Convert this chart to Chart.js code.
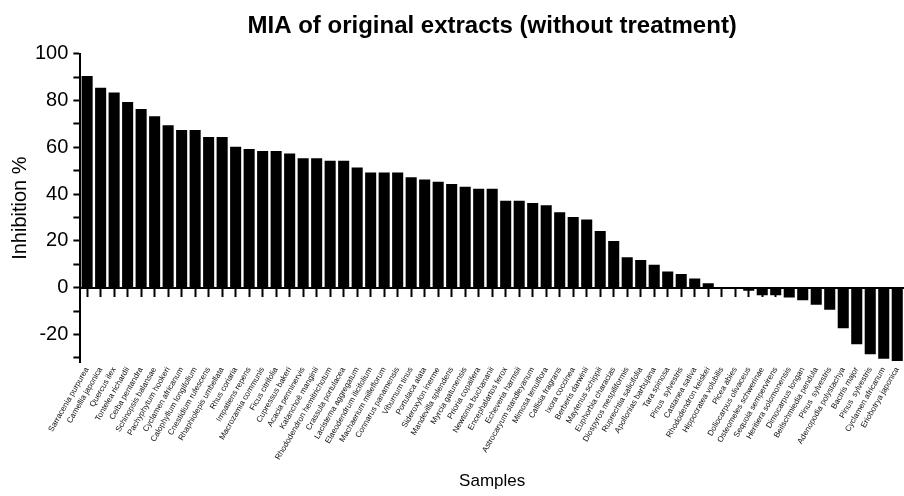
<!DOCTYPE html>
<html lang="en">
<head>
    <meta charset="UTF-8">
    <title>MIA</title>
    <script src="https://cdn.jsdelivr.net/npm/chart.js@4.3.0/dist/chart.umd.min.js"></script>
    <style>
        body { margin: 0; background: #fff; }
    </style>
</head>
<body>
    <canvas id="chart" width="904" height="496"></canvas>
    <script>

const samples = [
  'Sarracenia purpurea', 'Camellia japonica', 'Quercus ilex', 'Tontelea richardii', 'Ceiba pentandra',
  'Schinopsis balansae', 'Pachyphytum hookeri', 'Cyclamen africanum', 'Calophyllum longifolium', 'Cnestidium rufescens',
  'Rhaphiolepis umbellata', 'Rhus coriaria', 'Impatiens repens', 'Macrozamia communis', 'Ficus citrifolia',
  'Cupressus bakeri', 'Acacia penninervis', 'Kalanchoë manginii', 'Rhododendron hemitrichotum', 'Crassula portulacea',
  'Lacistema aggregatum', 'Elaeodendrum ilicifolium', 'Machaerium milleflorum', 'Connarus panamensis', 'Viburnum tinus',
  'Portulaca alata', 'Sideroxylon inerme', 'Mandevilla splendens', 'Myrcia gatunensis', 'Prioria copaifera',
  'Newtonia buchananii', 'Encephalartos ferox', 'Echeveria harmsii', 'Astrocaryum standleyanum', 'Mimosa tenuiflora',
  'Callisia fragrans', 'Ixora coccinea', 'Berberis darwinii', 'Maytenus schippii', 'Euphorbia characias',
  'Diospyros mespiliformis', 'Ruprechtia salicifolia', 'Apollonias barbujana', 'Tara spinosa', 'Pinus  sylvestris',
  'Castanea sativa', 'Rhododendron keiskei', 'Hippocratea volubilis', 'Picea abies', 'Doliocarpus olivaceus',
  'Osteomeles schwerinae', 'Sequoia sempervirens', 'Heritiera solomonensis', 'Dimocarpus longan', 'Beilschmiedia pendula',
  'Pinus  sylvestris', 'Adenopodia polystachya', 'Bactris major', 'Pinus  sylvestris', 'Cyclamen africanum',
  'Eriobotrya japonica'
];

const inhibition = [
  90.5, 85.5, 83.4, 79.4, 76.4, 73.3, 69.4, 67.4, 67.4, 64.4,
  64.4, 60.3, 59.3, 58.4, 58.4, 57.4, 55.3, 55.3, 54.3, 54.3,
  51.4, 49.2, 49.2, 49.2, 47.2, 46.3, 45.3, 44.3, 43.2, 42.3,
  42.3, 37.2, 37.2, 36.2, 35.2, 32.2, 30.2, 29.1, 24.2, 20.0,
  13.0, 11.8, 9.8, 6.9, 5.9, 3.9, 1.9, 0.2, 0.2, -1.3,
  -3.2, -3.2, -4.2, -5.4, -7.3, -9.4, -17.3, -24.2, -28.5, -30.4,
  -31.4
];

// y axis: major ticks labelled every 20, minor ticks at 10s
const yTicks = [-30, -20, -10, 0, 10, 20, 30, 40, 50, 60, 70, 80, 90, 100];
const yMin = -32;
const yMax = 100;

const font = "'Liberation Sans', Arial, sans-serif";

let ctx = document.getElementById('chart').getContext('2d');
let myChart = new Chart(ctx, {
    type: 'bar',
    data: {
        labels: samples,
        datasets: [{
            label: 'Inhibition %',
            data: inhibition,
            backgroundColor: '#000',
            borderWidth: 0,
            barPercentage: 0.82,
            categoryPercentage: 1.0
        }]
    },
    options: {
        responsive: false,
        animation: false,
        layout: { padding: { left: 10, right: 0, top: 12, bottom: 4 } },
        plugins: {
            legend: { display: false },
            tooltip: { enabled: false },
            title: {
                display: true,
                text: 'MIA of original extracts (without treatment)',
                color: '#000',
                fullSize: false,
                font: { family: font, size: 24, weight: 'bold' },
                padding: { top: 0, bottom: 13 }
            }
        },
        scales: {
            x: {
                grid: { display: false, drawTicks: false },
                border: { display: false },
                afterFit: function(scale) {
                    scale.paddingRight = 0;
                },
                ticks: {
                    autoSkip: false,
                    maxRotation: 60,
                    minRotation: 60,
                    padding: 3,
                    color: '#111',
                    font: { family: font, size: 8 }
                },
                title: {
                    display: true,
                    text: 'Samples',
                    color: '#000',
                    font: { family: font, size: 17 },
                    padding: { top: 7, bottom: 0 }
                }
            },
            xZero: {
                type: 'category',
                labels: samples,
                position: { y: 0 },
                offset: true,
                grid: {
                    drawOnChartArea: false,
                    drawTicks: true,
                    offset: false,
                    tickLength: 8,
                    tickWidth: 2,
                    color: '#000'
                },
                border: { display: true, color: '#000', width: 2 },
                ticks: { display: false }
            },
            y: {
                min: yMin,
                max: yMax,
                afterBuildTicks: function(axis) {
                    axis.ticks = yTicks.map(v => ({ value: v }));
                },
                grid: {
                    drawOnChartArea: false,
                    tickLength: 7,
                    tickWidth: 2,
                    tickColor: '#000'
                },
                border: { display: true, color: '#000', width: 2 },
                ticks: {
                    autoSkip: false,
                    color: '#000',
                    padding: 5,
                    font: { family: font, size: 20 },
                    callback: function(value) {
                        return value % 20 === 0 ? String(value) : '';
                    }
                },
                title: {
                    display: true,
                    text: 'Inhibition %',
                    color: '#000',
                    font: { family: font, size: 20, lineHeight: 1 },
                    padding: { top: 0, bottom: 0 }
                }
            }
        }
    }
});

    </script>
</body>
</html>
